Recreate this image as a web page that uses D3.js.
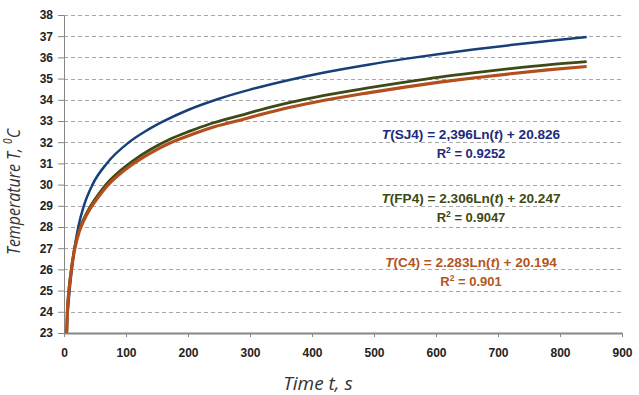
<!DOCTYPE html>
<html>
<head>
<meta charset="utf-8">
<script src="https://cdn.jsdelivr.net/npm/d3@7"></script>
<style>
    body { margin: 0; background: #fff; }
    svg { display: block; }
</style>
</head>
<body>
<div id="chart"></div>
<script>
const sj4Time = [6, 7.5, 9, 12.5, 17, 23, 32, 46, 69, 105, 135, 160, 200, 250, 300, 365, 420, 493, 550, 606, 660, 720, 780, 843];
const sj4Temp = [24.0, 24.5, 25.0, 26.0, 27.0, 28.0, 29.0, 30.0, 31.0, 32.0, 32.58, 32.98, 33.52, 34.05, 34.48, 34.95, 35.29, 35.67, 35.93, 36.16, 36.37, 36.58, 36.77, 36.96];

const fp4Time = [4.3, 5, 5.5, 8, 11.8, 16.5, 24.7, 31, 42, 55, 70, 90, 110, 140, 170, 203, 235, 285, 330, 365, 420, 493, 550, 606, 660, 720, 780, 843];
const fp4Temp = [23.0, 23.62, 24.03, 25.04, 26.0, 26.9, 27.87, 28.33, 28.95, 29.52, 30.08, 30.64, 31.1, 31.67, 32.13, 32.52, 32.86, 33.27, 33.63, 33.88, 34.21, 34.57, 34.83, 35.07, 35.27, 35.47, 35.65, 35.8];

const c4Time = [4.3, 5, 5.5, 8, 11.8, 16.5, 24.7, 31, 42, 55, 70, 90, 110, 140, 170, 203, 235, 285, 330, 365, 420, 493, 550, 606, 660, 720, 780, 843];
const c4Temp = [23.0, 23.6, 24.0, 25.0, 25.95, 26.85, 27.8, 28.25, 28.85, 29.4, 29.95, 30.5, 30.95, 31.5, 31.95, 32.33, 32.66, 33.05, 33.4, 33.65, 33.98, 34.34, 34.6, 34.83, 35.03, 35.23, 35.41, 35.57];

const xTicks = [0, 100, 200, 300, 400, 500, 600, 700, 800, 900];
const yTicks = [23, 24, 25, 26, 27, 28, 29, 30, 31, 32, 33, 34, 35, 36, 37, 38];

const fitLabels = [
    { name: "SJ4", eq: "2,396Ln(", tail: ") + 20.826", r2: "0.9252", temp: 32.15 },
    { name: "FP4", eq: "2.306Ln(", tail: ") + 20.247", r2: "0.9047", temp: 29.13 },
    { name: "C4",  eq: "2.283Ln(", tail: ") + 20.194", r2: "0.901",  temp: 26.11 }
];

const colors = { SJ4: "#17407a", FP4: "#3c4a17", C4: "#b24f1c" };
const textColors = { SJ4: "#1b2a7c", FP4: "#3c4a12", C4: "#b2561e" };

// 1. Setup
const width = 639, height = 395;
const svg = d3.select("#chart").append("svg")
    .attr("width", width)
    .attr("height", height);

const x = d3.scaleLinear().domain([0, 900]).range([64, 622]);
const y = d3.scaleLinear().domain([23, 38]).range([333, 15]);

// 2. Gridlines
svg.append("g")
    .selectAll("line")
    .data(yTicks.filter(d => d > 23))
    .enter()
    .append("line")
    .attr("x1", x(0))
    .attr("x2", x(900))
    .attr("y1", d => Math.round(y(d)) + 0.5)
    .attr("y2", d => Math.round(y(d)) + 0.5)
    .style("stroke", "#a8a8a8")
    .style("stroke-dasharray", "4,3");

// 3. Axes
const yAxis = svg.append("g")
    .attr("transform", `translate(${x(0)},0)`)
    .call(d3.axisLeft(y).tickValues(yTicks).tickSize(6).tickPadding(5).tickSizeOuter(0));

const xAxis = svg.append("g")
    .attr("transform", `translate(0,${y(23)})`)
    .call(d3.axisBottom(x).tickValues(xTicks).tickSize(4).tickPadding(11).tickSizeOuter(0));

[yAxis, xAxis].forEach(ax => {
    ax.select(".domain").style("stroke", "#878787");
    ax.selectAll(".tick line").style("stroke", "#878787");
    ax.selectAll(".tick text")
        .style("font-family", "'Liberation Sans', Arial, sans-serif")
        .style("font-weight", "bold")
        .style("font-size", "12px")
        .style("fill", "#222");
});
xAxis.select(".domain").style("stroke-width", 2);

// Axis titles
svg.append("text")
    .attr("x", 318)
    .attr("y", 390)
    .style("text-anchor", "middle")
    .style("font-family", "'Open Sans', sans-serif")
    .style("font-style", "italic")
    .style("font-size", "19px")
    .style("fill", "#333")
    .text("Time t, s");

const yTitle = svg.append("text")
    .attr("transform", "translate(20,192) rotate(-90) scale(0.84,1)")
    .style("text-anchor", "middle")
    .style("font-family", "'Open Sans', sans-serif")
    .style("font-style", "italic")
    .style("font-size", "19px")
    .style("fill", "#333");
yTitle.append("tspan").text("Temperature T, ");
yTitle.append("tspan").attr("dy", -8).style("font-size", "12px").text("0");
yTitle.append("tspan").attr("dy", 8).text("C");

// 4. Lines
const line = d3.line()
    .x(d => x(d[0]))
    .y(d => y(d[1]))
    .curve(d3.curveMonotoneX);

const series = [
    { name: "SJ4", pts: d3.zip(sj4Time, sj4Temp), w: 2.5 },
    { name: "FP4", pts: d3.zip(fp4Time, fp4Temp), w: 2.8 },
    { name: "C4", pts: d3.zip(c4Time, c4Temp), w: 3.2 }
];

svg.selectAll(".series")
    .data(series)
    .enter()
    .append("path")
    .attr("class", "series")
    .attr("d", d => line(d.pts))
    .style("fill", "none")
    .style("stroke", d => colors[d.name])
    .style("stroke-width", d => d.w)
    .style("stroke-linejoin", "round");

// 5. Fit equations
const cx = 471;
fitLabels.forEach(f => {
    const base = y(f.temp);
    const eq = svg.append("text")
        .attr("x", cx)
        .attr("y", base)
        .style("text-anchor", "middle")
        .style("font-family", "'Liberation Sans', Arial, sans-serif")
        .style("font-weight", "bold")
        .style("font-size", "13.6px")
        .style("fill", textColors[f.name]);
    eq.append("tspan").style("font-style", "italic").text("T");
    eq.append("tspan").text(`(${f.name}) = ${f.eq}`);
    eq.append("tspan").style("font-style", "italic").text("t");
    eq.append("tspan").text(f.tail);

    const r = svg.append("text")
        .attr("x", cx)
        .attr("y", base + 19)
        .style("text-anchor", "middle")
        .style("font-family", "'Liberation Sans', Arial, sans-serif")
        .style("font-weight", "bold")
        .style("font-size", "13px")
        .style("fill", textColors[f.name]);
    r.append("tspan").text("R");
    r.append("tspan").attr("dy", -5).style("font-size", "8.5px").text("2");
    r.append("tspan").attr("dy", 5).text(` = ${f.r2}`);
});
</script>
</body>
</html>
